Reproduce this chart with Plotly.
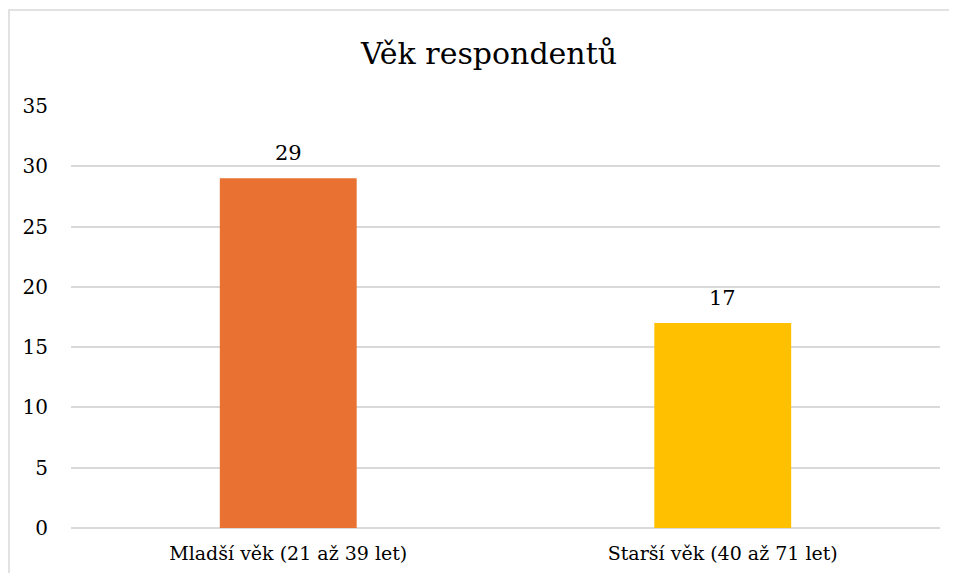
import plotly.graph_objects as go

categories = ["Mladší věk (21 až 39 let)", "Starší věk (40 až 71 let)"]
counts = [29, 17]
bar_colors = ["#E97132", "#FFC000"]

SERIF = "DejaVu Serif"

# page body adds an 8px offset, so the figure is sized to fit inside the window
OFF = 8
W, H = 957 - OFF - 8, 581 - OFF - 8
L, T = 71 - OFF, 106 - OFF
R = W - (940 - OFF)
B = H - (528 - OFF)
pw, ph = W - L - R, H - T - B

fig = go.Figure(go.Bar(
    x=categories, y=counts,
    marker=dict(color=bar_colors, line=dict(width=0)),
))

# value labels sit a bit higher above the bars than plotly's own outside text
for cat, val in zip(categories, counts):
    fig.add_annotation(x=cat, y=val, text=str(val), showarrow=False,
                       yanchor="bottom", yshift=11,
                       font=dict(family=SERIF, size=21, color="#000000"))

fig.update_layout(
    width=W, height=H,
    margin=dict(l=L, r=R, t=T, b=B),
    paper_bgcolor="white", plot_bgcolor="white",
    title=dict(text="Věk respondentů", x=(489 - OFF) / W, xanchor="center",
               y=1 - (53 - OFF) / H, yanchor="middle",
               font=dict(family=SERIF, size=30, color="#000000")),
    font=dict(family=SERIF, size=19, color="#000000"),
    bargap=0.685,
    showlegend=False,
    xaxis=dict(showgrid=False, showline=False, ticks="", ticklabelstandoff=12,
               tickfont=dict(family=SERIF, size=19)),
    yaxis=dict(range=[0, 35], dtick=5, showgrid=True, gridcolor="#D9D9D9", gridwidth=1.5,
               zeroline=True, zerolinecolor="#D9D9D9", zerolinewidth=1.5,
               showline=False, ticks="", ticklabelstandoff=22,
               tickfont=dict(family=SERIF, size=20)),
    shapes=[dict(type="rect", xref="paper", yref="paper",
                 x0=(9 - OFF - L) / pw, x1=(W + 20 - L) / pw,
                 y0=-(B + 20) / ph, y1=(H - B - (10 - OFF)) / ph,
                 line=dict(color="#D9D9D9", width=1.5), fillcolor="rgba(0,0,0,0)", layer="below")],
)

fig.write_html("out.html")
